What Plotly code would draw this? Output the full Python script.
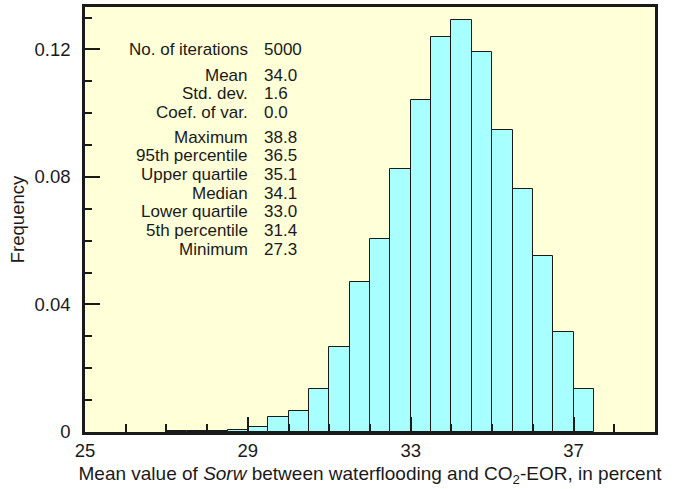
import plotly.graph_objects as go

# ---- data ----
bin_start = [27.0, 27.5, 28.0, 28.5, 29.0, 29.5, 30.0, 30.5, 31.0, 31.5, 32.0, 32.5,
             33.0, 33.5, 34.0, 34.5, 35.0, 35.5, 36.0, 36.5, 37.0]
frequency = [0.0002, 0.0002, 0.0002, 0.0005, 0.0016, 0.0048, 0.0065, 0.0135, 0.0266, 0.0472,
             0.0605, 0.0824, 0.1042, 0.1238, 0.1292, 0.1192, 0.0947, 0.0761, 0.0551,
             0.0315, 0.0136]
bin_width = 0.5

stat_labels = ["No. of iterations", "Mean", "Std. dev.", "Coef. of var.",
               "Maximum", "95th percentile", "Upper quartile", "Median",
               "Lower quartile", "5th percentile", "Minimum"]
stat_values = ["5000", "34.0", "1.6", "0.0",
               "38.8", "36.5", "35.1", "34.1", "33.0", "31.4", "27.3"]

x_tick_vals = [25, 29, 33, 37]
y_tick_vals = [0, 0.04, 0.08, 0.12]
y_tick_text = ["0", "0.04", "0.08", "0.12"]

# ---- layout constants ----
W, H = 675, 489
L, R, T, B = 85, 20, 7, 57
plot_w = W - L - R
plot_h = H - T - B
FONT = "Liberation Sans, Arial, Helvetica, sans-serif"
INK = "#1a1a1a"

fig = go.Figure()
fig.add_trace(go.Bar(
    x=bin_start, y=frequency, width=bin_width, offset=0,
    marker=dict(color="#A8FFFF", line=dict(color=INK, width=1)),
    showlegend=False, hoverinfo="x+y",
))

# stats text block (pixel positions of line centres)
line_px = [49.5, 75, 93.7, 112.4, 137, 155.7, 174.4, 193.1, 211.8, 230.5, 249.2]
label_xpx, value_xpx = 250, 262
for lab, val, ypx in zip(stat_labels, stat_values, line_px):
    yp = (H - B - ypx) / plot_h
    fig.add_annotation(text=lab, xref="paper", yref="paper",
                       x=(label_xpx - L) / plot_w, y=yp, xanchor="right", yanchor="middle",
                       showarrow=False, font=dict(family=FONT, size=17, color=INK))
    fig.add_annotation(text=val, xref="paper", yref="paper",
                       x=(value_xpx - L) / plot_w, y=yp, xanchor="left", yanchor="middle",
                       showarrow=False, font=dict(family=FONT, size=17, color=INK))

fig.update_layout(
    width=W, height=H,
    margin=dict(l=L, r=R, t=T, b=B, pad=0),
    paper_bgcolor="white",
    plot_bgcolor="#FFFFD8",
    font=dict(family=FONT, size=18, color=INK),
    bargap=0,
    xaxis=dict(
        range=[25, 39], tickmode="array", tickvals=x_tick_vals,
        ticks="inside", ticklen=15, tickwidth=1.5, tickcolor=INK,
        minor=dict(dtick=1, tick0=25, ticks="inside", ticklen=8, tickwidth=1.5,
                   tickcolor=INK, showgrid=False),
        showline=True, linewidth=2.5, linecolor=INK, mirror=True,
        showgrid=False, zeroline=False, ticklabelstandoff=0,
        tickfont=dict(size=18.5),
        title=dict(text="Mean value of <i>Sorw</i> between waterflooding and CO<sub>2</sub>-EOR, in percent",
                   font=dict(size=19), standoff=7),
        automargin=False,
    ),
    yaxis=dict(
        range=[0, 0.1333], tickmode="array", tickvals=y_tick_vals, ticktext=y_tick_text,
        ticks="inside", ticklen=15, tickwidth=1.5, tickcolor=INK,
        minor=dict(dtick=0.01, tick0=0, ticks="inside", ticklen=7, tickwidth=1.5,
                   tickcolor=INK, showgrid=False),
        showline=True, linewidth=2.5, linecolor=INK, mirror=True,
        showgrid=False, zeroline=False, ticklabelstandoff=8,
        tickfont=dict(size=18.5),
        title=dict(text="Frequency", font=dict(size=18.5), standoff=6),
        automargin=False,
    ),
)

fig.write_html("out.html")
